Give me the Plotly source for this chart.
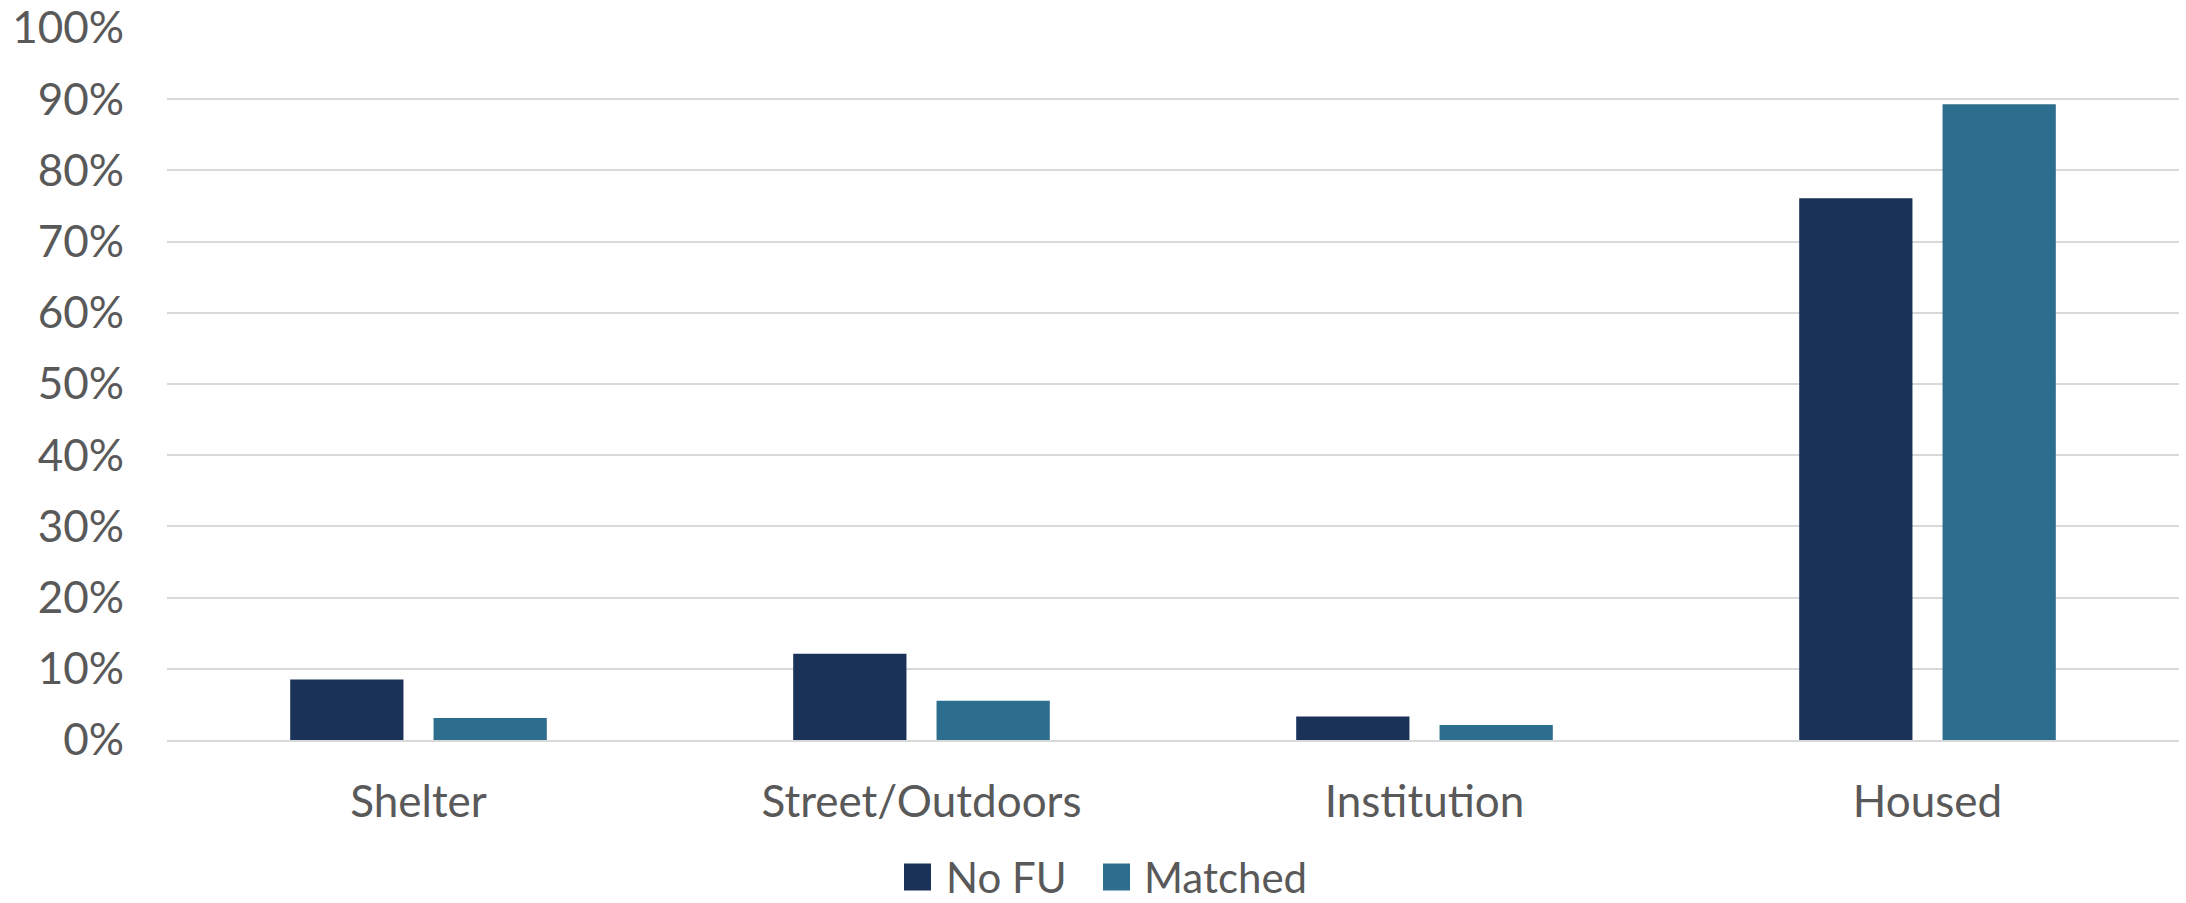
import plotly.graph_objects as go

categories = ["Shelter", "Street/Outdoors", "Institution", "Housed"]
no_fu = [8.5, 12.1, 3.3, 76.1]
matched = [3.1, 5.5, 2.1, 89.3]
y_ticks = list(range(0, 101, 10))
y_tick_text = [f"{v}%" for v in y_ticks]

series = [("No FU", no_fu, "#1A3158"), ("Matched", matched, "#2D6E8E")]

TEXT = "#595959"
FONT = "Lato"
SIZE = 44

W, H = 2186, 903
L, R, T, B = 167, 7, 28, 163
PW, PH = W - L - R, H - T - B


def px_x(x):
    return (x - L) / PW


def px_y(y):
    return (H - B - y) / PH


fig = go.Figure()
for name, vals, color in series:
    fig.add_bar(name=name, x=categories, y=vals, marker_color=color,
                marker_line_width=0, showlegend=False)

# Legend drawn below the plot: a square swatch followed by the series name
legend_items = [(904, 945), (1103, 1143)]
legend_mid = 877
shapes, annotations = [], []
for (sx, tx), (name, _, color) in zip(legend_items, series):
    shapes.append(dict(type="rect", xref="paper", yref="paper",
                       x0=px_x(sx), x1=px_x(sx + 27),
                       y0=px_y(legend_mid + 13.5), y1=px_y(legend_mid - 13.5),
                       fillcolor=color, line_width=0))
    annotations.append(dict(xref="paper", yref="paper", x=px_x(tx),
                            y=px_y(legend_mid), xanchor="left",
                            yanchor="middle", text=name, showarrow=False,
                            borderpad=0,
                            font=dict(family=FONT, size=42, color=TEXT)))

fig.update_layout(
    width=W, height=H,
    margin=dict(l=L, r=R, t=T, b=B, autoexpand=False),
    paper_bgcolor="white", plot_bgcolor="white",
    barmode="group", bargap=0.43, bargroupgap=0.21,
    font=dict(family=FONT, size=SIZE, color=TEXT),
    showlegend=False,
    shapes=shapes, annotations=annotations,
)
fig.update_yaxes(range=[0, 100], tickvals=y_ticks, ticktext=y_tick_text,
                 showgrid=True, gridcolor="#D9D9D9", gridwidth=2,
                 zeroline=False, showline=False, ticks="",
                 ticklabelstandoff=42, automargin=False,
                 tickfont=dict(family=FONT, size=SIZE, color=TEXT))
fig.update_xaxes(showline=True, linecolor="#D9D9D9", linewidth=2,
                 ticks="", ticklabelstandoff=22, automargin=False,
                 tickfont=dict(family=FONT, size=SIZE, color=TEXT))

fig.write_html("out.html")
